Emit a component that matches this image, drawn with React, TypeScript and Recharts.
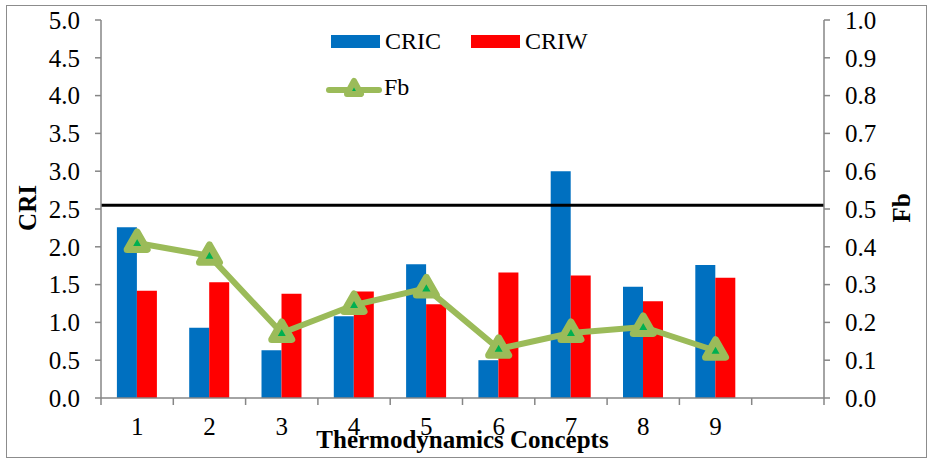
import React from "react";
import {
  ComposedChart,
  Bar,
  Line,
  XAxis,
  YAxis,
  ReferenceLine,
} from "recharts";

const categories = ["1", "2", "3", "4", "5", "6", "7", "8", "9", ""];
const cricValues = [2.26, 0.93, 0.63, 1.08, 1.77, 0.5, 3.0, 1.47, 1.76, null];
const criwValues = [1.42, 1.53, 1.38, 1.41, 1.24, 1.66, 1.62, 1.28, 1.59, null];
const fbValues = [0.41, 0.376, 0.172, 0.246, 0.29, 0.13, 0.172, 0.188, 0.125, null];
const thresholdCri = 2.55;

const criTicks = [0, 0.5, 1, 1.5, 2, 2.5, 3, 3.5, 4, 4.5, 5];
const fbTicks = [0, 0.1, 0.2, 0.3, 0.4, 0.5, 0.6, 0.7, 0.8, 0.9, 1];

const data = categories.map((c, i) => ({
  name: c,
  CRIC: cricValues[i],
  CRIW: criwValues[i],
  Fb: fbValues[i],
}));

const FONT = "Liberation Serif";
const TICK_FS = 25;
const TITLE_FS = 25;
const AXIS_GRAY = "#868686";
const BLUE = "#0070C0";
const RED = "#FF0000";
const OLIVE = "#9BBB59";
const GREEN = "#00B050";

const W = 930;
const H = 460;
const LEFT_W = 101;
const RIGHT_W = 106;
const X_H = 62;
const plotW = W - LEFT_W - RIGHT_W;
const band = plotW / categories.length;

// x ticks sit on category boundaries, labels in the middle
const CategoryTick = (props: any) => {
  const { x, y, payload, index } = props;
  const left = x - band / 2;
  return (
    <g>
      <line x1={left} x2={left} y1={y} y2={y + 7} stroke={AXIS_GRAY} strokeWidth={1.5} />
      {index === categories.length - 1 && (
        <line x1={left + band} x2={left + band} y1={y} y2={y + 7} stroke={AXIS_GRAY} strokeWidth={1.5} />
      )}
      <text x={x} y={y + 37} textAnchor="middle" fontFamily={FONT} fontSize={TICK_FS} fill="#000">
        {payload.value}
      </text>
    </g>
  );
};

const ValueTick = (props: any) => {
  const { x, y, payload, anchor } = props;
  return (
    <text x={x} y={y} dy="0.35em" textAnchor={anchor} fontFamily={FONT} fontSize={TICK_FS} fill="#000">
      {Number(payload.value).toFixed(1)}
    </text>
  );
};

// rotated bold axis title at a fixed spot
const AxisTitle = (props: any) => {
  const { tx, ty, text } = props;
  return (
    <text
      x={tx}
      y={ty}
      transform={`rotate(-90 ${tx} ${ty})`}
      textAnchor="middle"
      dominantBaseline="central"
      fontFamily={FONT}
      fontSize={TITLE_FS}
      fontWeight="bold"
      fill="#000"
    >
      {text}
    </text>
  );
};

const TriangleDot = (props: any) => {
  const { cx, cy, value } = props;
  if (value == null || cx == null || cy == null) return null;
  const s = 10;
  const pts = `${cx},${cy - s * 1.1} ${cx + s},${cy + s * 0.65} ${cx - s},${cy + s * 0.65}`;
  return (
    <polygon points={pts} fill={GREEN} stroke={OLIVE} strokeWidth={7} strokeLinejoin="round" />
  );
};

const ChartLegend = () => (
  <div style={{ position: "absolute", left: 331, top: 28, fontFamily: FONT, fontSize: 24, color: "#000" }}>
    <div style={{ position: "absolute", left: 0, top: 0, display: "flex", alignItems: "center", whiteSpace: "nowrap" }}>
      <span style={{ display: "inline-block", width: 49, height: 13, background: BLUE, marginRight: 5 }} />
      <span>CRIC</span>
    </div>
    <div style={{ position: "absolute", left: 140, top: 0, display: "flex", alignItems: "center", whiteSpace: "nowrap" }}>
      <span style={{ display: "inline-block", width: 49, height: 13, background: RED, marginRight: 5 }} />
      <span>CRIW</span>
    </div>
    <div style={{ position: "absolute", left: -5, top: 46, display: "flex", alignItems: "center", whiteSpace: "nowrap" }}>
      <svg width={56} height={26} style={{ marginRight: 2 }}>
        <line x1={3} x2={53} y1={15} y2={15} stroke={OLIVE} strokeWidth={6} strokeLinecap="round" />
        <polygon points="28,6 35,19 21,19" fill={GREEN} stroke={OLIVE} strokeWidth={6} strokeLinejoin="round" />
      </svg>
      <span>Fb</span>
    </div>
  </div>
);

export default function App() {
  return (
    <div style={{ position: "absolute", left: 0, top: 0, width: W, height: H, background: "#fff" }}>
      <div
        style={{
          position: "absolute",
          left: 6,
          top: 5,
          width: 921,
          height: 453,
          border: "1.5px solid #8c8c8c",
          boxSizing: "border-box",
        }}
      />
      <ComposedChart
        width={W}
        height={H}
        data={data}
        margin={{ top: 20, right: 0, bottom: 0, left: 0 }}
        barCategoryGap="22%"
        barGap={0}
        style={{ position: "absolute", left: 0, top: 0 }}
      >
        <XAxis
          dataKey="name"
          tick={<CategoryTick />}
          tickLine={false}
          tickSize={0}
          tickMargin={0}
          axisLine={{ stroke: AXIS_GRAY, strokeWidth: 1.5 }}
          interval={0}
          height={X_H}
          label={{
            value: "Thermodynamics Concepts",
            position: "insideBottom",
            offset: 12,
            fontFamily: FONT,
            fontSize: TITLE_FS,
            fontWeight: "bold",
            fill: "#000",
          }}
        />
        <YAxis
          yAxisId="cri"
          orientation="left"
          domain={[0, 5]}
          ticks={criTicks}
          interval={0}
          tick={<ValueTick anchor="end" />}
          tickSize={6}
          tickMargin={15}
          tickLine={{ stroke: AXIS_GRAY, strokeWidth: 1.5 }}
          axisLine={{ stroke: AXIS_GRAY, strokeWidth: 1.5 }}
          width={LEFT_W}
          label={<AxisTitle tx={27} ty={208} text="CRI" />}
        />
        <YAxis
          yAxisId="fb"
          orientation="right"
          domain={[0, 1]}
          ticks={fbTicks}
          interval={0}
          tick={<ValueTick anchor="start" />}
          tickSize={6}
          tickMargin={15}
          tickLine={{ stroke: AXIS_GRAY, strokeWidth: 1.5 }}
          axisLine={{ stroke: AXIS_GRAY, strokeWidth: 1.5 }}
          width={RIGHT_W}
          label={<AxisTitle tx={901} ty={208} text="Fb" />}
        />
        <Bar yAxisId="cri" dataKey="CRIC" name="CRIC" fill={BLUE} isAnimationActive={false} />
        <Bar yAxisId="cri" dataKey="CRIW" name="CRIW" fill={RED} isAnimationActive={false} />
        <ReferenceLine yAxisId="cri" y={thresholdCri} stroke="#000" strokeWidth={3} />
        <Line
          yAxisId="fb"
          dataKey="Fb"
          name="Fb"
          stroke={OLIVE}
          strokeWidth={6}
          dot={<TriangleDot />}
          activeDot={false}
          isAnimationActive={false}
        />
      </ComposedChart>
      <ChartLegend />
    </div>
  );
}
